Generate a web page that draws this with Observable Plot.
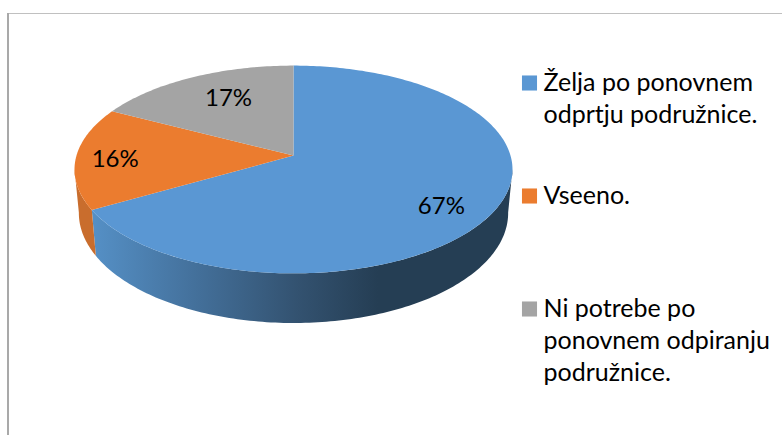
<!DOCTYPE html>
<html><head><meta charset="utf-8">
<script src="https://cdn.jsdelivr.net/npm/d3@7"></script>
<script src="https://cdn.jsdelivr.net/npm/@observablehq/plot@0.6"></script>
<style>html,body{margin:0;padding:0;background:#fff}svg{display:block}</style>
</head><body><div id="chart"></div>
<script>
const categories = ["Želja po ponovnem\nodprtju podružnice.", "Vseeno.", "Ni potrebe po\nponovnem odpiranju\npodružnice."];
const shares = [66.7, 15.9, 17.4];
const shownLabels = ["67%", "16%", "17%"];
const topColors = ["#5a97d3", "#eb7c2f", "#a4a4a4"];
const labelRadius = [0.8, 0.82, 0.72];
const labelShift = [[-11, 8], [0, 2], [10, 1]];
const legendTop = [68, 181, 294];
const swatchMiddle = [82.5, 195.5, 308.5];

const FONT = "Lato, Carlito, Calibri, sans-serif";
const topDisc = {x0: 293, y0: 155, a: 217, b: 102, k: 0.1346};
const lowDisc = {x0: 293, y0: 197.7, a: 212.7, b: 108, k: 0.1346};
const project = (d, deg, r = 1) => {
  const t = deg * Math.PI / 180, s = Math.sin(t) * r, c = Math.cos(t) * r, w = 1 + d.k * c;
  return {x: d.x0 + d.a * s / w, y: d.y0 - d.b * c / w};
};
const arc = (d, a0, a1) => {
  const n = Math.max(2, Math.ceil(Math.abs(a1 - a0))), out = [];
  for (let i = 0; i <= n; i++) out.push(project(d, a0 + (a1 - a0) * i / n));
  return out;
};
let acc = 0;
const slices = shares.map((v, i) => {
  const a0 = acc / 100 * 360; acc += v; const a1 = acc / 100 * 360;
  return {i, a0, a1, mid: (a0 + a1) / 2};
});
const face = s => [{x: topDisc.x0, y: topDisc.y0}, ...arc(topDisc, s.a0, s.a1)];
const wall = (a0, a1) => [...arc(topDisc, a0, a1), ...arc(lowDisc, a1, a0)];
const edgeRight = 97.5, edgeLeft = 262.5;
const split = slices[0].a1;

const gradient = () => {
  const g = d3.create("svg:linearGradient").attr("id", "wallShade").attr("x1", 0).attr("x2", 1).attr("y1", 0).attr("y2", 0);
  [[0, "#5590c6"], [0.24, "#44719c"], [0.49, "#335270"], [0.68, "#253e54"], [1, "#253e54"]].forEach(([o, c]) =>
    g.append("stop").attr("offset", o).attr("stop-color", c));
  return d3.create("svg:defs").call(s => s.append(() => g.node())).node();
};
const labels = slices.map(s => {
  const p = project(topDisc, s.mid, labelRadius[s.i]);
  return {x: p.x + labelShift[s.i][0], y: p.y + labelShift[s.i][1], text: shownLabels[s.i]};
});
const legendX = 521.5;
const legend = categories.map((c, i) => ({c, i, y: legendTop[i], m: swatchMiddle[i]}));

const plot = Plot.plot({
  width: 782, height: 435, margin: 0,
  x: {domain: [0, 782], range: [0, 782], axis: null},
  y: {domain: [0, 435], range: [0, 435], axis: null},
  marks: [
    gradient,
    Plot.ruleY([13], {x1: 7, x2: 782, stroke: "#c0c0c0", strokeWidth: 1}),
    Plot.ruleX([7.5], {y1: 13, y2: 435, stroke: "#a9a9a9", strokeWidth: 2}),
    Plot.line(wall(edgeRight, split), {x: "x", y: "y", fill: "url(#wallShade)", stroke: "none"}),
    Plot.line(wall(split, edgeLeft), {x: "x", y: "y", fill: "#c96d2d", stroke: "none"}),
    ...slices.map(s => Plot.line(face(s), {x: "x", y: "y", fill: topColors[s.i], stroke: "none"})),
    Plot.text(labels, {x: "x", y: "y", text: "text", fontFamily: FONT, fontSize: 24, fill: "#000"}),
    Plot.dot(legend, {x: legendX + 7.5, y: "m", symbol: "square", r: 8.5, fill: d => topColors[d.i], stroke: "none"}),
    Plot.text(legend, {x: legendX + 21.5, y: "y", text: "c", textAnchor: "start", lineAnchor: "top", lineHeight: 1.28, fontFamily: FONT, fontSize: 25, fill: "#000"})
  ]
});
document.getElementById("chart").append(plot);
</script></body></html>
